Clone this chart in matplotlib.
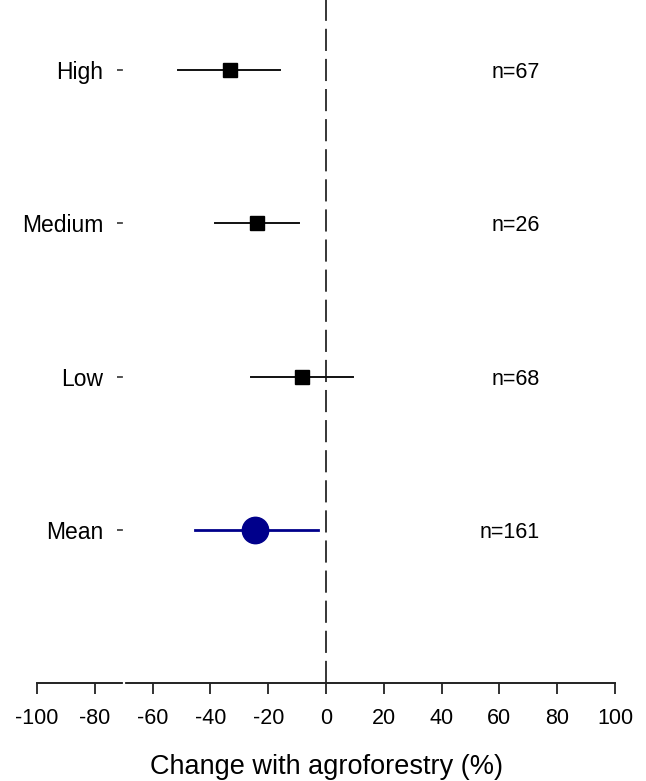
import numpy as np
import matplotlib
matplotlib.use('Agg')
import matplotlib.pyplot as plt

plt.rcParams['font.family'] = ['Liberation Sans', 'DejaVu Sans']

groups = ['High', 'Medium', 'Low']
est = [-33.3, -23.8, -8.2]
lo = [-51.2, -38.3, -25.8]
hi = [-15.8, -9.2, 9.2]
n_labels = ['n=67', 'n=26', 'n=68']

mean_est = -24.6
mean_lo = -45.5
mean_hi = -2.6
mean_n = 'n=161'

xticks = [-100, -80, -60, -40, -20, 0, 20, 40, 60, 80, 100]

ypos = [4, 3, 2]
ymean = 1

fig = plt.figure(figsize=(6.46, 7.81), dpi=100)
ax = fig.add_axes([37/646, 1 - 683/781, (615-37)/646, 683/781])

# y axis sits at -70 (white line leaves the small gap in the x axis)
ax.spines['left'].set_position(('data', -70))
ax.spines['left'].set_color('white')
ax.spines['left'].set_linewidth(1.6)
ax.spines['left'].set_zorder(2.6)
for s in ['top', 'right']:
    ax.spines[s].set_visible(False)
ax.spines['bottom'].set_linewidth(1.4)
ax.spines['bottom'].set_color('#222222')

# group estimates
for y, e, l, h, lab in zip(ypos, est, lo, hi, n_labels):
    ax.plot([l, h], [y, y], color='#111111', lw=1.4, zorder=3)
    ax.plot(e, y, marker='s', color='black', markersize=9.6, zorder=4)
    ax.text(74, y, lab, ha='right', va='center_baseline', fontsize=15.5)

# overall mean
ax.plot([mean_lo, mean_hi], [ymean, ymean], color='#00008B', lw=2, zorder=3)
ax.plot(mean_est, ymean, marker='o', color='#00008B', markersize=19, zorder=4)
ax.text(74, ymean, mean_n, ha='right', va='center_baseline', fontsize=15.5)

# zero line
ax.axvline(0, color='black', lw=1.1, dashes=(14.5, 5.2), zorder=2)

ax.set_xlim(-100, 100)
ax.set_ylim(0, 4.457)
ax.set_xticks(xticks)
ax.set_xticklabels([str(t) for t in xticks], fontsize=15.5)
ax.set_yticks(ypos + [ymean])
ax.set_yticklabels(groups + ['Mean'], fontsize=16.5)
ax.tick_params(axis='x', direction='out', length=8, width=1.3, color='#222222', pad=10)
ax.tick_params(axis='y', direction='out', length=4.8, width=1.1, color='#222222', pad=10)

ax.set_xlabel('Change with agroforestry (%)', fontsize=19.5, labelpad=18)

fig.savefig('out.png', dpi=100)
